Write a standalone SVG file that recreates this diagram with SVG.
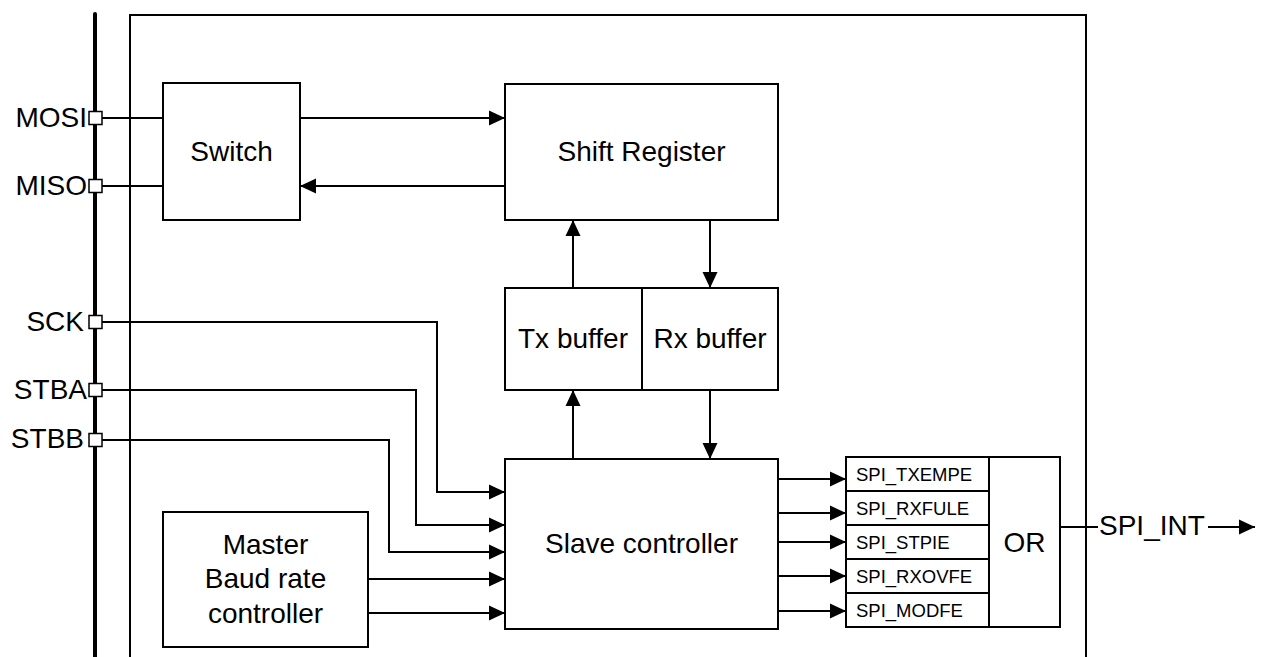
<svg xmlns="http://www.w3.org/2000/svg" width="1261" height="657" viewBox="0 0 1261 657">
<style>
.box{fill:#fff;stroke:#000;stroke-width:2}
.ln{fill:none;stroke:#000;stroke-width:2}
.ar{fill:none;stroke:#000;stroke-width:2;marker-end:url(#ah)}
.t{font-family:"Liberation Sans",Arial,sans-serif;font-size:28px;fill:#000}
.m{text-anchor:middle}
.e{text-anchor:end}
.s{font-family:"Liberation Sans",Arial,sans-serif;font-size:18.5px;fill:#000}
.port{fill:#fff;stroke:#000;stroke-width:1.5}
</style>
<defs>
<marker id="ah" markerUnits="userSpaceOnUse" markerWidth="18" markerHeight="18" viewBox="0 0 18 18" refX="16" refY="9" orient="auto">
<path d="M0,1.5 L16,9 L0,16.5 Z" fill="#000"/>
</marker>
</defs>

<g id="frame">
<line x1="95" y1="14" x2="95" y2="657" stroke="#000" stroke-width="4" stroke-linecap="round"/>
<polyline class="ln" points="130,657 130,15 1086,15 1086,657"/>
</g>

<g id="connectors">
<line class="ln" x1="102" y1="118" x2="163" y2="118"/>
<line class="ln" x1="102" y1="186" x2="163" y2="186"/>
<line class="ar" x1="300" y1="118" x2="505" y2="118"/>
<line class="ar" x1="505" y1="186" x2="300" y2="186"/>
<line class="ar" x1="573" y1="288" x2="573" y2="220"/>
<line class="ar" x1="710" y1="220" x2="710" y2="288"/>
<line class="ar" x1="573" y1="459" x2="573" y2="390"/>
<line class="ar" x1="710" y1="390" x2="710" y2="459"/>
<polyline class="ar" points="102,322 437,322 437,492 505,492"/>
<polyline class="ar" points="102,390 416,390 416,525 505,525"/>
<polyline class="ar" points="102,440 389,440 389,552 505,552"/>
<line class="ar" x1="368" y1="579" x2="505" y2="579"/>
<line class="ar" x1="368" y1="613" x2="505" y2="613"/>
<line class="ar" x1="778" y1="479" x2="846" y2="479"/>
<line class="ar" x1="778" y1="513" x2="846" y2="513"/>
<line class="ar" x1="778" y1="542" x2="846" y2="542"/>
<line class="ar" x1="778" y1="576" x2="846" y2="576"/>
<line class="ar" x1="778" y1="611" x2="846" y2="611"/>
<line class="ln" x1="1060" y1="527" x2="1098" y2="527"/>
<line class="ar" x1="1208" y1="527" x2="1255" y2="527"/>
</g>

<g id="ports">
<g id="port-mosi"><rect class="port" x="89" y="111.5" width="13" height="13"/><text class="t e" x="87" y="127">MOSI</text></g>
<g id="port-miso"><rect class="port" x="89" y="179.5" width="13" height="13"/><text class="t e" x="87" y="195">MISO</text></g>
<g id="port-sck"><rect class="port" x="89" y="315.5" width="13" height="13"/><text class="t e" x="84" y="331">SCK</text></g>
<g id="port-stba"><rect class="port" x="89" y="383.5" width="13" height="13"/><text class="t e" x="87" y="399">STBA</text></g>
<g id="port-stbb"><rect class="port" x="89" y="433.5" width="13" height="13"/><text class="t e" x="84" y="448">STBB</text></g>
</g>

<g id="switch"><rect class="box" x="163" y="83" width="137" height="137"/><text class="t m" x="231.5" y="161">Switch</text></g>
<g id="shift-register"><rect class="box" x="505" y="84" width="273" height="136"/><text class="t m" x="641.5" y="161">Shift Register</text></g>
<g id="tx-buffer"><rect class="box" x="505" y="288" width="137" height="102"/><text class="t m" x="573" y="348">Tx buffer</text></g>
<g id="rx-buffer"><rect class="box" x="642" y="288" width="136" height="102"/><text class="t m" x="710" y="348">Rx buffer</text></g>
<g id="slave-controller"><rect class="box" x="505" y="459" width="273" height="170"/><text class="t m" x="641.5" y="553">Slave controller</text></g>
<g id="baud-controller"><rect class="box" x="163" y="512" width="205" height="135"/>
<text class="t m" x="265.5" y="554">Master</text>
<text class="t m" x="265.5" y="588">Baud rate</text>
<text class="t m" x="265.5" y="623">controller</text></g>

<g id="flags">
<rect class="box" x="846" y="457" width="143" height="34"/><text class="s" x="856" y="481">SPI_TXEMPE</text>
<rect class="box" x="846" y="491" width="143" height="34"/><text class="s" x="856" y="515">SPI_RXFULE</text>
<rect class="box" x="846" y="525" width="143" height="34"/><text class="s" x="856" y="549">SPI_STPIE</text>
<rect class="box" x="846" y="559" width="143" height="34"/><text class="s" x="856" y="583">SPI_RXOVFE</text>
<rect class="box" x="846" y="593" width="143" height="34"/><text class="s" x="856" y="617">SPI_MODFE</text>
</g>
<g id="or"><rect class="box" x="989" y="457" width="71" height="170"/><text class="t m" x="1024.5" y="552">OR</text></g>
<g id="spi-int"><text class="t" x="1099" y="535">SPI_INT</text></g>
</svg>
